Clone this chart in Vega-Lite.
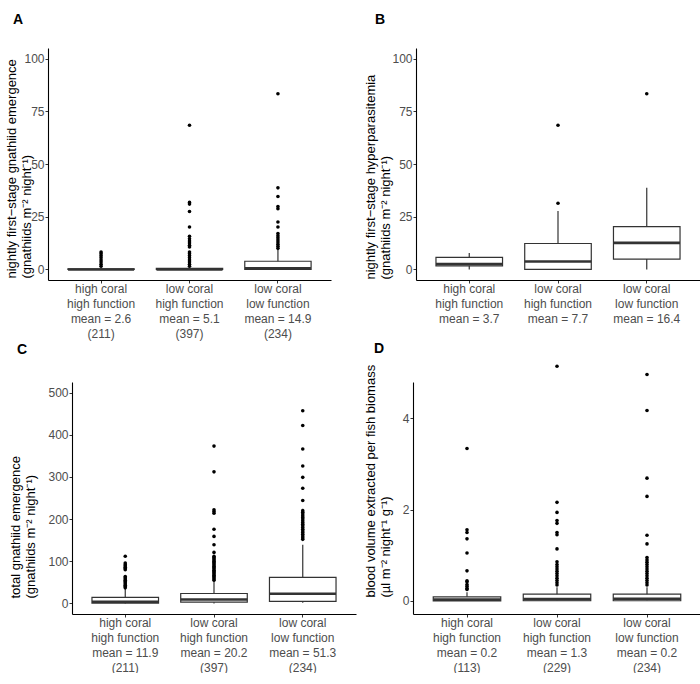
{
  "$schema": "https://vega.github.io/schema/vega-lite/v6.json",
  "background": "white",
  "padding": {"left": 5, "top": 13, "right": 0, "bottom": 0},
  "config": {
    "font": "Liberation Sans",
    "view": {"stroke": null},
    "axis": {"grid": false, "domainColor": "#000", "domainWidth": 1.1, "tickColor": "#333", "tickSize": 3, "tickWidth": 1, "labelFontSize": 12, "labelColor": "#4d4d4d", "labelPadding": 1, "titleFontSize": 13, "titleFontWeight": "normal", "titleColor": "#000", "titleLineHeight": 15, "labelLineHeight": 15, "labelFont": "Liberation Sans", "titleFont": "Liberation Sans"},
    "axisX": {"labelPadding": 0, "labelAngle": 0, "title": null},
    "axisY": {"titleAnchor": "start", "titleAlign": "left"},
    "title": {"anchor": "start", "frame": "bounds", "fontSize": 14, "fontWeight": "bold", "color": "#000", "font": "Liberation Sans"}
  },
  "datasets": {
    "boxes": [
      {"p": "A", "g": "1", "lo": 0, "q1": 0, "med": 0, "q3": 0.3, "hi": 1},
      {"p": "A", "g": "2", "lo": 0, "q1": 0, "med": 0, "q3": 0.5, "hi": 1},
      {"p": "A", "g": "3", "lo": 0, "q1": 0, "med": 0.5, "q3": 3.9, "hi": 9.5},
      {"p": "B", "g": "1", "lo": 0, "q1": 1.7, "med": 2.6, "q3": 5.7, "hi": 7.8},
      {"p": "B", "g": "2", "lo": 0, "q1": 0, "med": 3.8, "q3": 12.3, "hi": 27.7},
      {"p": "B", "g": "3", "lo": 0, "q1": 4.9, "med": 12.6, "q3": 20.3, "hi": 38.7},
      {"p": "C", "g": "1", "lo": 0, "q1": 1, "med": 4, "q3": 14.5, "hi": 34.7},
      {"p": "C", "g": "2", "lo": 0, "q1": 3, "med": 9.4, "q3": 23.6, "hi": 53},
      {"p": "C", "g": "3", "lo": 1.6, "q1": 4.7, "med": 23, "q3": 62, "hi": 139},
      {"p": "D", "g": "1", "lo": 0, "q1": 0, "med": 0.03, "q3": 0.09, "hi": 0.19},
      {"p": "D", "g": "2", "lo": 0, "q1": 0.005, "med": 0.04, "q3": 0.15, "hi": 0.3},
      {"p": "D", "g": "3", "lo": 0, "q1": 0.005, "med": 0.05, "q3": 0.15, "hi": 0.3}
    ],
    "outliers": [
      {"p": "A", "g": "1", "v": 1.5}, {"p": "A", "g": "1", "v": 2.5}, {"p": "A", "g": "1", "v": 3.5}, {"p": "A", "g": "1", "v": 4.5}, {"p": "A", "g": "1", "v": 5.5}, {"p": "A", "g": "1", "v": 6.5}, {"p": "A", "g": "1", "v": 7.5}, {"p": "A", "g": "1", "v": 8.3},
      {"p": "A", "g": "2", "v": 1.5}, {"p": "A", "g": "2", "v": 2.5}, {"p": "A", "g": "2", "v": 3.5}, {"p": "A", "g": "2", "v": 4.5}, {"p": "A", "g": "2", "v": 5.5}, {"p": "A", "g": "2", "v": 6.5}, {"p": "A", "g": "2", "v": 7.5}, {"p": "A", "g": "2", "v": 8.3},
      {"p": "A", "g": "2", "v": 10.7}, {"p": "A", "g": "2", "v": 11.5}, {"p": "A", "g": "2", "v": 12.5}, {"p": "A", "g": "2", "v": 13.5}, {"p": "A", "g": "2", "v": 14.5}, {"p": "A", "g": "2", "v": 15.7},
      {"p": "A", "g": "2", "v": 20.1}, {"p": "A", "g": "2", "v": 27.5}, {"p": "A", "g": "2", "v": 31}, {"p": "A", "g": "2", "v": 31.8}, {"p": "A", "g": "2", "v": 68.4},
      {"p": "A", "g": "3", "v": 10}, {"p": "A", "g": "3", "v": 11}, {"p": "A", "g": "3", "v": 12}, {"p": "A", "g": "3", "v": 13}, {"p": "A", "g": "3", "v": 14}, {"p": "A", "g": "3", "v": 15}, {"p": "A", "g": "3", "v": 16}, {"p": "A", "g": "3", "v": 17},
      {"p": "A", "g": "3", "v": 20.1}, {"p": "A", "g": "3", "v": 22.5}, {"p": "A", "g": "3", "v": 28.8}, {"p": "A", "g": "3", "v": 29.8}, {"p": "A", "g": "3", "v": 34.6}, {"p": "A", "g": "3", "v": 38.7}, {"p": "A", "g": "3", "v": 83.3},
      {"p": "B", "g": "2", "v": 31.4}, {"p": "B", "g": "2", "v": 68.4}, {"p": "B", "g": "3", "v": 83.3},
      {"p": "C", "g": "1", "v": 37}, {"p": "C", "g": "1", "v": 40}, {"p": "C", "g": "1", "v": 43}, {"p": "C", "g": "1", "v": 46}, {"p": "C", "g": "1", "v": 49}, {"p": "C", "g": "1", "v": 52}, {"p": "C", "g": "1", "v": 55}, {"p": "C", "g": "1", "v": 58}, {"p": "C", "g": "1", "v": 61}, {"p": "C", "g": "1", "v": 64},
      {"p": "C", "g": "1", "v": 80}, {"p": "C", "g": "1", "v": 83}, {"p": "C", "g": "1", "v": 86}, {"p": "C", "g": "1", "v": 89}, {"p": "C", "g": "1", "v": 92}, {"p": "C", "g": "1", "v": 96}, {"p": "C", "g": "1", "v": 112},
      {"p": "C", "g": "2", "v": 55}, {"p": "C", "g": "2", "v": 58}, {"p": "C", "g": "2", "v": 61}, {"p": "C", "g": "2", "v": 64}, {"p": "C", "g": "2", "v": 67}, {"p": "C", "g": "2", "v": 70}, {"p": "C", "g": "2", "v": 73}, {"p": "C", "g": "2", "v": 76}, {"p": "C", "g": "2", "v": 79}, {"p": "C", "g": "2", "v": 82},
      {"p": "C", "g": "2", "v": 85}, {"p": "C", "g": "2", "v": 88}, {"p": "C", "g": "2", "v": 91}, {"p": "C", "g": "2", "v": 94}, {"p": "C", "g": "2", "v": 97}, {"p": "C", "g": "2", "v": 100}, {"p": "C", "g": "2", "v": 103}, {"p": "C", "g": "2", "v": 106}, {"p": "C", "g": "2", "v": 109}, {"p": "C", "g": "2", "v": 112},
      {"p": "C", "g": "2", "v": 121}, {"p": "C", "g": "2", "v": 139}, {"p": "C", "g": "2", "v": 159}, {"p": "C", "g": "2", "v": 176}, {"p": "C", "g": "2", "v": 214}, {"p": "C", "g": "2", "v": 218}, {"p": "C", "g": "2", "v": 222}, {"p": "C", "g": "2", "v": 312}, {"p": "C", "g": "2", "v": 373},
      {"p": "C", "g": "3", "v": 152}, {"p": "C", "g": "3", "v": 156}, {"p": "C", "g": "3", "v": 160}, {"p": "C", "g": "3", "v": 164}, {"p": "C", "g": "3", "v": 168}, {"p": "C", "g": "3", "v": 172}, {"p": "C", "g": "3", "v": 176}, {"p": "C", "g": "3", "v": 180}, {"p": "C", "g": "3", "v": 184},
      {"p": "C", "g": "3", "v": 188}, {"p": "C", "g": "3", "v": 192}, {"p": "C", "g": "3", "v": 196}, {"p": "C", "g": "3", "v": 200}, {"p": "C", "g": "3", "v": 204}, {"p": "C", "g": "3", "v": 208}, {"p": "C", "g": "3", "v": 212}, {"p": "C", "g": "3", "v": 216}, {"p": "C", "g": "3", "v": 220},
      {"p": "C", "g": "3", "v": 244}, {"p": "C", "g": "3", "v": 273}, {"p": "C", "g": "3", "v": 299}, {"p": "C", "g": "3", "v": 326}, {"p": "C", "g": "3", "v": 366}, {"p": "C", "g": "3", "v": 422}, {"p": "C", "g": "3", "v": 457},
      {"p": "D", "g": "1", "v": 0.25}, {"p": "D", "g": "1", "v": 0.28}, {"p": "D", "g": "1", "v": 0.32}, {"p": "D", "g": "1", "v": 0.36}, {"p": "D", "g": "1", "v": 0.42}, {"p": "D", "g": "1", "v": 0.44}, {"p": "D", "g": "1", "v": 0.66}, {"p": "D", "g": "1", "v": 1.05}, {"p": "D", "g": "1", "v": 1.36}, {"p": "D", "g": "1", "v": 1.5}, {"p": "D", "g": "1", "v": 1.56}, {"p": "D", "g": "1", "v": 3.34},
      {"p": "D", "g": "2", "v": 0.35}, {"p": "D", "g": "2", "v": 0.4}, {"p": "D", "g": "2", "v": 0.45}, {"p": "D", "g": "2", "v": 0.5}, {"p": "D", "g": "2", "v": 0.55}, {"p": "D", "g": "2", "v": 0.6}, {"p": "D", "g": "2", "v": 0.65}, {"p": "D", "g": "2", "v": 0.7}, {"p": "D", "g": "2", "v": 0.75}, {"p": "D", "g": "2", "v": 0.8}, {"p": "D", "g": "2", "v": 0.86},
      {"p": "D", "g": "2", "v": 1.14}, {"p": "D", "g": "2", "v": 1.45}, {"p": "D", "g": "2", "v": 1.5}, {"p": "D", "g": "2", "v": 1.7}, {"p": "D", "g": "2", "v": 1.76}, {"p": "D", "g": "2", "v": 1.94}, {"p": "D", "g": "2", "v": 2.16}, {"p": "D", "g": "2", "v": 5.14},
      {"p": "D", "g": "3", "v": 0.35}, {"p": "D", "g": "3", "v": 0.4}, {"p": "D", "g": "3", "v": 0.45}, {"p": "D", "g": "3", "v": 0.5}, {"p": "D", "g": "3", "v": 0.55}, {"p": "D", "g": "3", "v": 0.6}, {"p": "D", "g": "3", "v": 0.65}, {"p": "D", "g": "3", "v": 0.7}, {"p": "D", "g": "3", "v": 0.75}, {"p": "D", "g": "3", "v": 0.8},
      {"p": "D", "g": "3", "v": 0.85}, {"p": "D", "g": "3", "v": 0.9}, {"p": "D", "g": "3", "v": 0.95}, {"p": "D", "g": "3", "v": 1.25}, {"p": "D", "g": "3", "v": 1.44}, {"p": "D", "g": "3", "v": 2.29}, {"p": "D", "g": "3", "v": 2.69}, {"p": "D", "g": "3", "v": 4.17}, {"p": "D", "g": "3", "v": 4.96}
    ]
  },
  "spacing": 3,
  "vconcat": [
    {
      "spacing": 9,
      "hconcat": [
        {
          "width": 259, "height": 232,
          "title": {"text": "A", "dx": 7, "offset": 21},
          "encoding": {"x": {"field": "g", "type": "nominal", "scale": {"paddingInner": 0, "paddingOuter": 0.1, "range": [-24, 259]}, "axis": {"labelExpr": "[['high coral','high function','mean = 2.6','(211)'],['low coral','high function','mean = 5.1','(397)'],['low coral','low function','mean = 14.9','(234)']][toNumber(datum.value)-1]"}}},
          "layer": [
            {"data": {"name": "boxes"}, "transform": [{"filter": "datum.p == 'A'"}], "mark": {"type": "rule", "color": "#333", "strokeWidth": 1.2},
             "encoding": {"y": {"field": "lo", "type": "quantitative", "scale": {"domain": [-5, 105], "nice": false, "zero": false}, "axis": {"offset": 24, "values": [0, 25, 50, 75, 100], "title": ["nightly first−stage gnathiid emergence", "(gnathiids m⁻² night⁻¹)"], "titlePadding": -10, "titleY": 230}}, "y2": {"field": "hi"}}},
            {"data": {"name": "boxes"}, "transform": [{"filter": "datum.p == 'A'"}], "mark": {"type": "bar", "width": {"band": 0.75}, "fill": "white", "stroke": "#333", "strokeWidth": 1.2},
             "encoding": {"y": {"field": "q1", "type": "quantitative"}, "y2": {"field": "q3"}}},
            {"data": {"name": "boxes"}, "transform": [{"filter": "datum.p == 'A'"}], "mark": {"type": "tick", "size": 66, "thickness": 2.6, "color": "#333", "opacity": 1},
             "encoding": {"y": {"field": "med", "type": "quantitative"}}},
            {"data": {"name": "outliers"}, "transform": [{"filter": "datum.p == 'A'"}], "mark": {"type": "circle", "size": 13, "color": "#000", "opacity": 1},
             "encoding": {"y": {"field": "v", "type": "quantitative"}}}
          ]
        },
        {
          "width": 284, "height": 232,
          "title": {"text": "B", "dx": 10, "offset": 21},
          "encoding": {"x": {"field": "g", "type": "nominal", "scale": {"paddingInner": 0, "paddingOuter": 0.1}, "axis": {"labelExpr": "[['high coral','high function','mean = 3.7'],['low coral','high function','mean = 7.7'],['low coral','low function','mean = 16.4']][toNumber(datum.value)-1]"}}},
          "layer": [
            {"data": {"name": "boxes"}, "transform": [{"filter": "datum.p == 'B'"}], "mark": {"type": "rule", "color": "#333", "strokeWidth": 1.2},
             "encoding": {"y": {"field": "lo", "type": "quantitative", "scale": {"domain": [-5, 105], "nice": false, "zero": false}, "axis": {"values": [0, 25, 50, 75, 100], "title": ["nightly first−stage hyperparasitemia", "(gnathiids m⁻² night⁻¹)"], "titlePadding": -1, "titleY": 231}}, "y2": {"field": "hi"}}},
            {"data": {"name": "boxes"}, "transform": [{"filter": "datum.p == 'B'"}], "mark": {"type": "bar", "width": {"band": 0.75}, "fill": "white", "stroke": "#333", "strokeWidth": 1.2},
             "encoding": {"y": {"field": "q1", "type": "quantitative"}, "y2": {"field": "q3"}}},
            {"data": {"name": "boxes"}, "transform": [{"filter": "datum.p == 'B'"}], "mark": {"type": "tick", "size": 66.5, "thickness": 2.6, "color": "#333", "opacity": 1},
             "encoding": {"y": {"field": "med", "type": "quantitative"}}},
            {"data": {"name": "outliers"}, "transform": [{"filter": "datum.p == 'B'"}], "mark": {"type": "circle", "size": 13, "color": "#000", "opacity": 1},
             "encoding": {"y": {"field": "v", "type": "quantitative"}}}
          ]
        }
      ]
    },
    {
      "spacing": 8,
      "hconcat": [
        {
          "width": 284, "height": 232,
          "title": {"text": "C", "dx": 7, "offset": 25},
          "encoding": {"x": {"field": "g", "type": "nominal", "scale": {"paddingInner": 0, "paddingOuter": 0.1}, "axis": {"labelExpr": "[['high coral','high function','mean = 11.9','(211)'],['low coral','high function','mean = 20.2','(397)'],['low coral','low function','mean = 51.3','(234)']][toNumber(datum.value)-1]"}}},
          "layer": [
            {"data": {"name": "boxes"}, "transform": [{"filter": "datum.p == 'C'"}], "mark": {"type": "rule", "color": "#333", "strokeWidth": 1.2},
             "encoding": {"y": {"field": "lo", "type": "quantitative", "scale": {"domain": [-25, 525], "nice": false, "zero": false}, "axis": {"values": [0, 100, 200, 300, 400, 500], "title": ["total gnathiid emergence", "(gnathiids m⁻² night⁻¹)"], "titlePadding": 10, "titleY": 216}}, "y2": {"field": "hi"}}},
            {"data": {"name": "boxes"}, "transform": [{"filter": "datum.p == 'C'"}], "mark": {"type": "bar", "width": {"band": 0.75}, "fill": "white", "stroke": "#333", "strokeWidth": 1.2},
             "encoding": {"y": {"field": "q1", "type": "quantitative"}, "y2": {"field": "q3"}}},
            {"data": {"name": "boxes"}, "transform": [{"filter": "datum.p == 'C'"}], "mark": {"type": "tick", "size": 66.5, "thickness": 2.6, "color": "#333", "opacity": 1},
             "encoding": {"y": {"field": "med", "type": "quantitative"}}},
            {"data": {"name": "outliers"}, "transform": [{"filter": "datum.p == 'C'"}], "mark": {"type": "circle", "size": 13, "color": "#000", "opacity": 1},
             "encoding": {"y": {"field": "v", "type": "quantitative"}}}
          ]
        },
        {
          "width": 288, "height": 232,
          "title": {"text": "D", "dx": 10, "offset": 8},
          "encoding": {"x": {"field": "g", "type": "nominal", "scale": {"paddingInner": 0, "paddingOuter": 0.1}, "axis": {"labelExpr": "[['high coral','high function','mean = 0.2','(113)'],['low coral','high function','mean = 1.3','(229)'],['low coral','low function','mean = 0.2','(234)']][toNumber(datum.value)-1]"}}},
          "layer": [
            {"data": {"name": "boxes"}, "transform": [{"filter": "datum.p == 'D'"}], "mark": {"type": "rule", "color": "#333", "strokeWidth": 1.2},
             "encoding": {"y": {"field": "lo", "type": "quantitative", "scale": {"domain": [-0.285, 4.795], "nice": false, "zero": false}, "axis": {"values": [0, 2, 4], "title": ["blood volume extracted per fish biomass", "(µl m⁻² night⁻¹ g⁻¹)"], "titlePadding": 10.3, "titleY": 215}}, "y2": {"field": "hi"}}},
            {"data": {"name": "boxes"}, "transform": [{"filter": "datum.p == 'D'"}], "mark": {"type": "bar", "width": {"band": 0.75}, "fill": "white", "stroke": "#333", "strokeWidth": 1.2},
             "encoding": {"y": {"field": "q1", "type": "quantitative"}, "y2": {"field": "q3"}}},
            {"data": {"name": "boxes"}, "transform": [{"filter": "datum.p == 'D'"}], "mark": {"type": "tick", "size": 67.5, "thickness": 2.6, "color": "#333", "opacity": 1},
             "encoding": {"y": {"field": "med", "type": "quantitative"}}},
            {"data": {"name": "outliers"}, "transform": [{"filter": "datum.p == 'D'"}], "mark": {"type": "circle", "size": 13, "color": "#000", "opacity": 1},
             "encoding": {"y": {"field": "v", "type": "quantitative"}}}
          ]
        }
      ]
    }
  ]
}
